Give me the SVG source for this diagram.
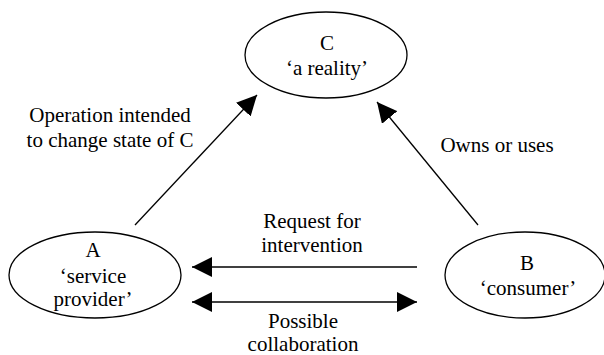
<svg xmlns="http://www.w3.org/2000/svg" width="604" height="355" viewBox="0 0 604 355" font-family="Liberation Serif, Times New Roman, Times, DejaVu Serif, serif">
<style>
.node ellipse{fill:#fff;stroke:#000;stroke-width:1.3}
text{font-size:21px;fill:#000;text-anchor:middle}
.conn line{stroke:#000;stroke-width:1.3;fill:none}
</style>
<defs>
<marker id="ah" viewBox="0 0 20 20" refX="20" refY="10" markerWidth="20" markerHeight="20" markerUnits="userSpaceOnUse" orient="auto-start-reverse">
<path d="M0,0 L20,10 L0,20 z" fill="#000"/>
</marker>
</defs>
<rect width="604" height="355" fill="#fff"/>
<g id="C" class="node">
<ellipse cx="326" cy="55" rx="81" ry="43"/>
<text x="327" y="50">C</text>
<text x="327" y="75">‘a reality’</text>
</g>
<g id="A" class="node">
<ellipse cx="95" cy="275" rx="86" ry="43"/>
<text x="93" y="257">A</text>
<text x="93" y="283">‘service</text>
<text x="93" y="306">provider’</text>
</g>
<g id="B" class="node">
<ellipse cx="525" cy="275" rx="80" ry="43"/>
<text x="527" y="270">B</text>
<text x="528" y="295">‘consumer’</text>
</g>
<g id="connectors" class="conn">
<line x1="135" y1="225" x2="257" y2="95" marker-end="url(#ah)"/>
<line x1="478" y1="225" x2="377" y2="102" marker-end="url(#ah)"/>
<line x1="417" y1="267" x2="192" y2="267" marker-end="url(#ah)"/>
<line x1="192" y1="302" x2="417" y2="302" marker-start="url(#ah)" marker-end="url(#ah)"/>
</g>
<g id="labels">
<text x="110" y="122">Operation intended</text>
<text x="110" y="147">to change state of C</text>
<text x="497" y="152">Owns or uses</text>
<text x="312" y="228">Request for</text>
<text x="312" y="252">intervention</text>
<text x="303" y="328">Possible</text>
<text x="303" y="351">collaboration</text>
</g>
</svg>
